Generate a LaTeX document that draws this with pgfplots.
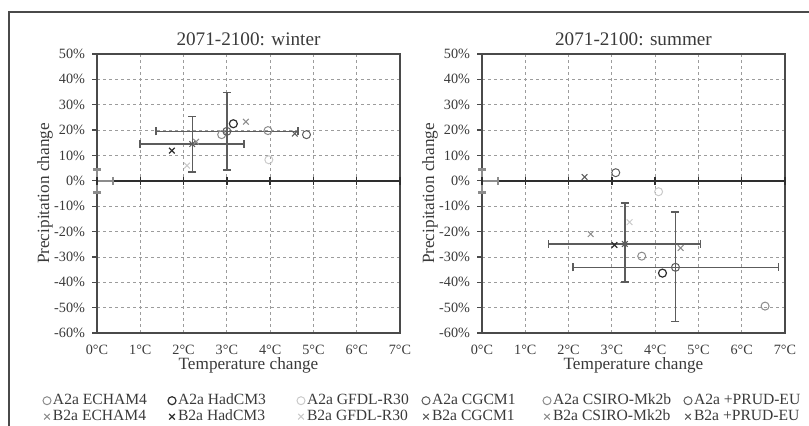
\documentclass[border=0pt]{standalone}
\usepackage{fontspec}
\setmainfont{Liberation Serif}
\usepackage{pgfplots}
\pgfplotsset{compat=1.18}
\definecolor{cDark}{HTML}{2E2E2E}
\definecolor{cMid}{HTML}{8C8C8C}
\definecolor{cMidD}{HTML}{5C5C5C}
\definecolor{cLight}{HTML}{CACACA}
\definecolor{cText}{HTML}{3A3A3A}
\definecolor{cGrid}{HTML}{9C9C9C}
\definecolor{cFrame}{HTML}{4A4A4A}

\pgfplotsset{
  echam/.style={only marks, color=cMid, mark options={solid, line width=0.5pt}},
  had/.style={only marks, color=cDark, mark options={solid, line width=0.6pt}},
  gfdl/.style={only marks, color=cLight, mark options={solid, line width=0.5pt}},
  cgcm/.style={only marks, color=cMidD, mark options={solid, line width=0.5pt}},
  csiro/.style={only marks, color=cMid, mark options={solid, line width=0.5pt}},
  prudm/.style={only marks, color=cMidD, mark options={solid, line width=0.5pt}},
  prud/.style={prudm,
    error bars/x dir=both, error bars/x explicit, error bars/y dir=both, error bars/y explicit,
    error bars/error bar style={line width=0.7pt, color=cMidD},
    error bars/error mark options={rotate=90, line width=0.8pt, mark size=2pt, color=cMidD}},
  myaxis/.style={
    scale only axis, width=151.5pt, height=139.5pt,
    xmin=0, xmax=7, ymin=-60, ymax=50, clip=false,
    xtick={0,1,2,3,4,5,6,7},
    xticklabels={0°C,1°C,2°C,3°C,4°C,5°C,6°C,7°C},
    ytick={-60,-50,-40,-30,-20,-10,0,10,20,30,40,50},
    yticklabels={-60\%,-50\%,-40\%,-30\%,-20\%,-10\%,0\%,10\%,20\%,30\%,40\%,50\%},
    grid=major,
    major grid style={cGrid, dash pattern=on 1.5pt off 1.5pt, line width=0.4pt},
    axis line style={cFrame, line width=0.75pt},
    x tick style={draw=none},
    y tick style={cFrame, line width=0.6pt},
    tick align=outside, tick pos=left, major tick length=2.5pt,
    ticklabel style={font=\fontsize{7.1}{8}\selectfont, text=cText},
    xlabel={Temperature change}, ylabel={Precipitation change},
    label style={font=\fontsize{8.6}{9}\selectfont, text=cText},
    xlabel style={at={(axis description cs:0.5,-0.1147)}, anchor=center},
    ylabel style={at={(axis description cs:-0.1716,0.5)}, anchor=center},
    title style={font=\fontsize{9.6}{10}\selectfont, text=cText, at={(axis description cs:0.5,1)}, anchor=center, yshift=1.5pt},
    mark size=2pt,
  },
  legend image code/.code={\draw[mark repeat=2, mark phase=2, #1] plot coordinates {(0pt,0pt)(3pt,0pt)(6pt,0pt)};},
  legaxis/.style={hide axis, scale only axis, width=1pt, height=1pt,
    xmin=0, xmax=1, ymin=0, ymax=1, anchor=south west, mark size=2pt,
    legend style={at={(0,0)}, anchor=north west, draw=none, fill=none,
      inner sep=0pt, outer sep=0pt, font=\fontsize{7.8}{8}\selectfont, text=cText,
      nodes={inner sep=0pt, text height=5.5pt, text depth=1.8pt},
      row sep=0.7pt, column sep=1pt},
    legend cell align=left},
}

\begin{document}
\begin{tikzpicture}
\useasboundingbox (0,0) rectangle (404.5pt,213pt);
\draw[cFrame, line width=1pt] (4.5pt,-2pt) -- (4.5pt,207pt) -- (406pt,207pt);

% ---------------- winter ----------------
\begin{axis}[myaxis, at={(48.5pt,46.5pt)}, anchor=south west,
  title={2071-2100: winter}]
\addplot[forget plot, color=cDark, line width=0.7pt, mark=|, mark size=2pt, mark options={solid, line width=0.7pt}]
  coordinates {(0,0)(1,0)(2,0)(3,0)(4,0)(5,0)(6,0)(7,0)};
\addplot[forget plot, draw=none, mark=none, color=cMidD,
  error bars/.cd, x dir=plus, x explicit, y dir=both, y explicit,
  error bar style={line width=1.2pt, color=cMid},
  error mark options={rotate=90, line width=1.4pt, mark size=2pt, color=cMid}]
  coordinates {(0,0) += (0.37,4.5) -= (0,4.5)};
% A2a
\addplot[echam, mark=o] coordinates {(3.95,19.8)};
\addplot[had, mark=o] coordinates {(3.15,22.5)};
\addplot[gfdl, mark=o] coordinates {(3.97,8.3)};
\addplot[cgcm, mark=o] coordinates {(4.84,18.2)};
\addplot[csiro, mark=o] coordinates {(2.88,18.2)};
\addplot[prud, mark=o] coordinates {(3.0,19.5) += (1.65,15.3) -= (1.63,15.2)};
% B2a
\addplot[echam, mark=x] coordinates {(3.44,23.3)};
\addplot[had, mark=x] coordinates {(1.73,11.9)};
\addplot[gfdl, mark=x] coordinates {(2.08,6.0)};
\addplot[cgcm, mark=x] coordinates {(4.57,18.6)};
\addplot[csiro, mark=x] coordinates {(2.29,15.4)};
\addplot[prud, mark=x] coordinates {(2.2,14.5) += (1.2,10.8) -= (1.2,11.0)};
\end{axis}

% ---------------- summer ----------------
\begin{axis}[myaxis, at={(241pt,46.5pt)}, anchor=south west,
  title={2071-2100: summer}]
\addplot[forget plot, color=cDark, line width=0.7pt, mark=|, mark size=2pt, mark options={solid, line width=0.7pt}]
  coordinates {(0,0)(1,0)(2,0)(3,0)(4,0)(5,0)(6,0)(7,0)};
\addplot[forget plot, draw=none, mark=none, color=cMidD,
  error bars/.cd, x dir=plus, x explicit, y dir=both, y explicit,
  error bar style={line width=1.2pt, color=cMid},
  error mark options={rotate=90, line width=1.4pt, mark size=2pt, color=cMid}]
  coordinates {(0,0) += (0.37,4.5) -= (0,4.5)};
% A2a
\addplot[echam, mark=o] coordinates {(3.69,-29.7)};
\addplot[had, mark=o] coordinates {(4.17,-36.4)};
\addplot[gfdl, mark=o] coordinates {(4.08,-4.3)};
\addplot[cgcm, mark=o] coordinates {(3.09,3.2)};
\addplot[csiro, mark=o] coordinates {(6.54,-49.4)};
\addplot[prud, mark=o] coordinates {(4.47,-34.1) += (2.38,21.8) -= (2.37,21.3)};
% B2a
\addplot[echam, mark=x] coordinates {(2.51,-21.0)};
\addplot[had, mark=x] coordinates {(3.06,-25.3)};
\addplot[gfdl, mark=x] coordinates {(3.41,-16.3)};
\addplot[cgcm, mark=x] coordinates {(2.37,1.5)};
\addplot[csiro, mark=x] coordinates {(4.59,-26.5)};
\addplot[prud, mark=x] coordinates {(3.30,-24.9) += (1.75,16.2) -= (1.76,15.1)};
\end{axis}

% ---------------- legend (one column per model) ----------------
\begin{axis}[legaxis, at={(21.5pt,16.3pt)}]
\addlegendimage{echam, mark=o}\addlegendentry{A2a ECHAM4}
\addlegendimage{echam, mark=x}\addlegendentry{B2a ECHAM4}
\end{axis}
\begin{axis}[legaxis, at={(84pt,16.3pt)}]
\addlegendimage{had, mark=o}\addlegendentry{A2a HadCM3}
\addlegendimage{had, mark=x}\addlegendentry{B2a HadCM3}
\end{axis}
\begin{axis}[legaxis, at={(148.5pt,16.3pt)}]
\addlegendimage{gfdl, mark=o}\addlegendentry{A2a GFDL-R30}
\addlegendimage{gfdl, mark=x}\addlegendentry{B2a GFDL-R30}
\end{axis}
\begin{axis}[legaxis, at={(211pt,16.3pt)}]
\addlegendimage{cgcm, mark=o}\addlegendentry{A2a CGCM1}
\addlegendimage{cgcm, mark=x}\addlegendentry{B2a CGCM1}
\end{axis}
\begin{axis}[legaxis, at={(271.5pt,16.3pt)}]
\addlegendimage{csiro, mark=o}\addlegendentry{A2a CSIRO-Mk2b}
\addlegendimage{csiro, mark=x}\addlegendentry{B2a CSIRO-Mk2b}
\end{axis}
\begin{axis}[legaxis, at={(342pt,16.3pt)}]
\addlegendimage{prudm, mark=o}\addlegendentry{A2a +PRUD-EU}
\addlegendimage{prudm, mark=x}\addlegendentry{B2a +PRUD-EU}
\end{axis}
\end{tikzpicture}
\end{document}
